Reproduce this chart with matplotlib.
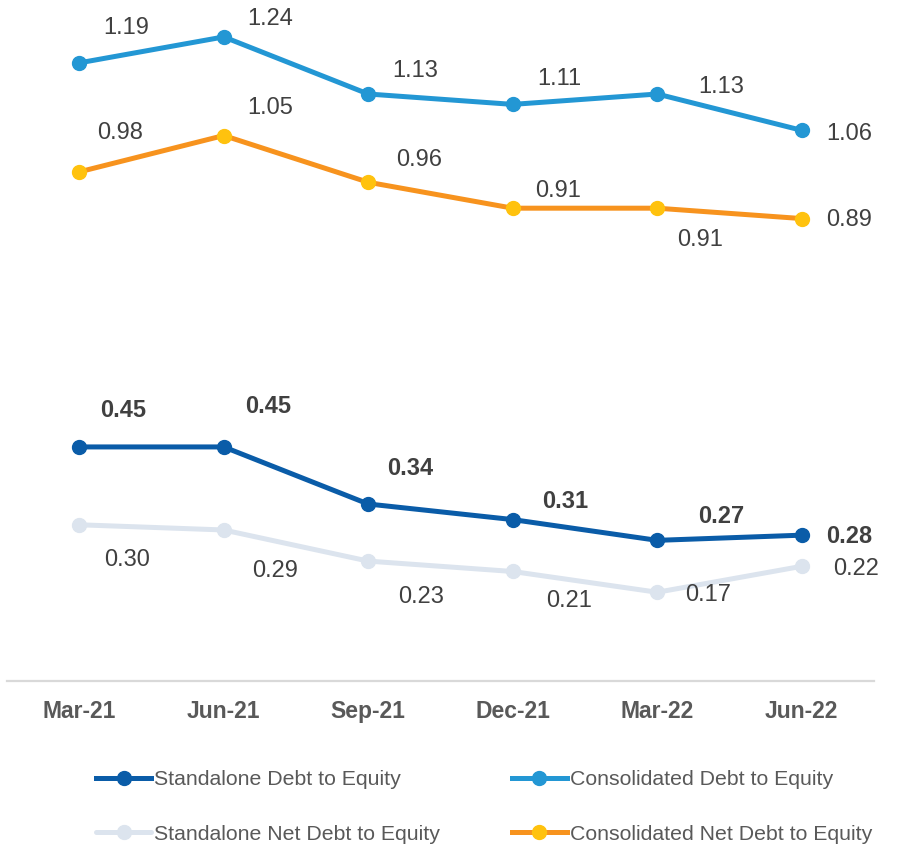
import matplotlib
matplotlib.use("Agg")
import matplotlib.pyplot as plt

plt.rcParams['font.family'] = ['Liberation Sans', 'DejaVu Sans']

categories = ["Mar-21", "Jun-21", "Sep-21", "Dec-21", "Mar-22", "Jun-22"]
standalone_de = [0.45, 0.45, 0.34, 0.31, 0.27, 0.28]
consolidated_de = [1.19, 1.24, 1.13, 1.11, 1.13, 1.06]
standalone_net_de = [0.30, 0.29, 0.23, 0.21, 0.17, 0.22]
consolidated_net_de = [0.98, 1.05, 0.96, 0.91, 0.91, 0.89]

# label offsets in pixels (dx, dy)
off_sd = [(44, 38), (44, 42), (42, 37), (52, 20), (64, 25), (47, 0)]
off_cd = [(47, 36), (46, 19), (47, 25), (47, 27), (64, 9), (47, -2)]
off_snd = [(48, -34), (51, -40), (53, -34), (56, -28), (51, -1), (54, -1)]
off_cnd = [(41, 40), (46, 29), (51, 24), (45, 19), (43, -30), (47, 0)]

W, H = 897, 846
fig = plt.figure(figsize=(W / 100, H / 100), dpi=100)
ax = fig.add_axes([7 / W, (H - 681) / H, 867 / W, (681 - 0) / H])
ax.set_xlim(-0.5, 5.5)
ax.set_ylim(-0.001, (681 - 0) / 519.0 - 0.001)

x = list(range(len(categories)))
lw = 3.6
ms = 10
c_sd = "#0A5CA8"
c_cd = "#2397D4"
c_snd = "#DCE4EE"
c_cnd_line = "#F7931E"
c_cnd_mk = "#FFC20E"

l_snd, = ax.plot(x, standalone_net_de, color=c_snd, lw=lw, marker='o', ms=ms,
                 mfc=c_snd, mec=c_snd, solid_capstyle='round', zorder=2,
                 label="Standalone Net Debt to Equity")
l_sd, = ax.plot(x, standalone_de, color=c_sd, lw=lw, marker='o', ms=ms,
                mfc=c_sd, mec=c_sd, zorder=3, label="Standalone Debt to Equity")
l_cnd, = ax.plot(x, consolidated_net_de, color=c_cnd_line, lw=lw, marker='o', ms=ms,
                 mfc=c_cnd_mk, mec=c_cnd_mk, zorder=3, label="Consolidated Net Debt to Equity")
l_cd, = ax.plot(x, consolidated_de, color=c_cd, lw=lw, marker='o', ms=ms,
                mfc=c_cd, mec=c_cd, zorder=3, label="Consolidated Debt to Equity")

txt_col = "#404040"
fs = 17


def label(vals, offs, bold=False):
    for xi, v, (dx, dy) in zip(x, vals, offs):
        ax.annotate(f"{v:.2f}", (xi, v), xytext=(dx, dy - 1.5), textcoords='offset pixels',
                    ha='center', va='center', fontsize=fs, color=txt_col,
                    fontweight='bold' if bold else 'normal')


label(standalone_de, off_sd, bold=True)
label(consolidated_de, off_cd)
label(standalone_net_de, off_snd)
label(consolidated_net_de, off_cnd)

for s in ['top', 'right', 'left']:
    ax.spines[s].set_visible(False)
ax.spines['bottom'].set_color("#D9D9D9")
ax.spines['bottom'].set_linewidth(1.6)
ax.set_yticks([])
ax.set_xticks(x)
ax.set_xticklabels(categories, fontsize=16.5, fontweight='bold', color="#595959")
ax.tick_params(axis='x', length=0, pad=13.5)

leg = fig.legend(handles=[l_sd, l_snd, l_cd, l_cnd], ncol=2,
                 loc='upper left', bbox_to_anchor=(96 / W, 1 - 770 / H),
                 frameon=False, fontsize=15.3, handlelength=2.6, handletextpad=0.15,
                 columnspacing=3.35, labelspacing=1.69, borderpad=0, borderaxespad=0,
                 labelcolor="#595959")

fig.savefig("out.png", dpi=100)
